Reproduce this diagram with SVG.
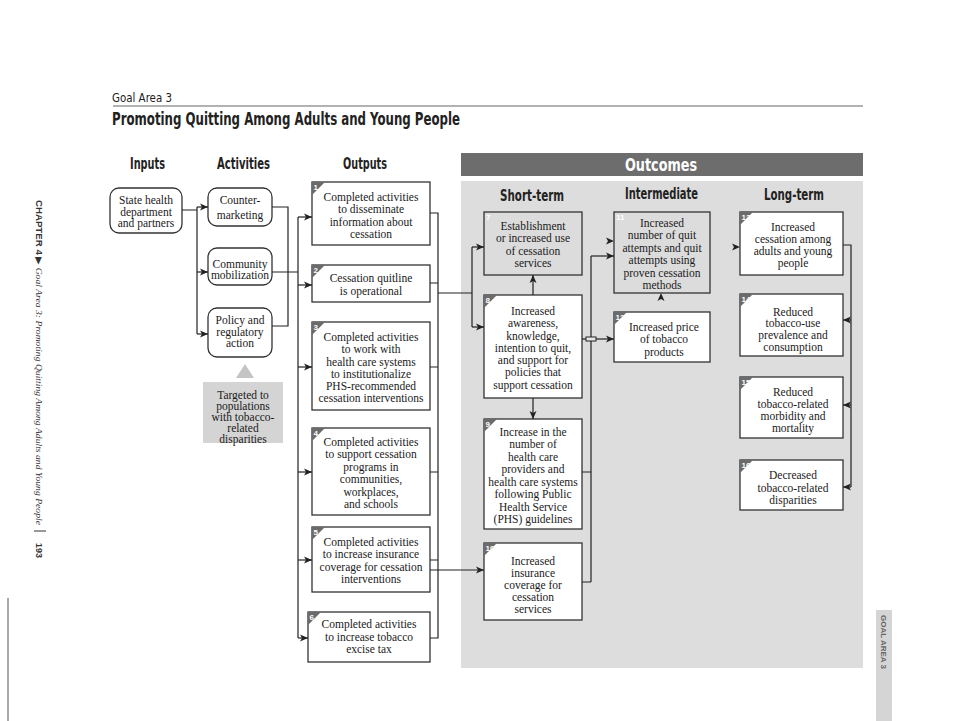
<svg xmlns="http://www.w3.org/2000/svg" width="954" height="721" viewBox="0 0 954 721">
<style>
.hd{font-family:"Liberation Sans Narrow","DejaVu Sans Condensed","Liberation Sans",sans-serif;font-weight:bold;fill:#222}
.t{font-family:"Liberation Serif","DejaVu Serif",serif;font-size:11.5px;fill:#1a1a1a;text-anchor:middle}
.box{fill:#fff;stroke:#333;stroke-width:1.3}
.gbox{fill:#dcdcdc;stroke:#333;stroke-width:1.3}
.tri{fill:#6b6b6b}
.num{font-family:"Liberation Sans Narrow","Liberation Sans",sans-serif;font-weight:bold;font-size:8px;fill:#fff}
.ln{fill:none;stroke:#222;stroke-width:1.2}
</style>
<defs>
<marker id="ah" viewBox="0 0 8 8" refX="8" refY="4" markerWidth="8" markerHeight="8" markerUnits="userSpaceOnUse" orient="auto"><path d="M0,0.5 L8,4 L0,7.5 L2,4 z" fill="#222"/></marker>
</defs>
<rect width="954" height="721" fill="#fff"/>

<!-- page header -->
<text class="hd" x="112" y="102" font-size="13" style="font-weight:normal" textLength="60" lengthAdjust="spacingAndGlyphs">Goal Area 3</text>
<line x1="113" y1="106" x2="863" y2="106" stroke="#666" stroke-width="1.2"/>
<text class="hd" x="112" y="125" font-size="17" textLength="348" lengthAdjust="spacingAndGlyphs">Promoting Quitting Among Adults and Young People</text>
<text class="hd" x="130" y="169" font-size="15" textLength="35" lengthAdjust="spacingAndGlyphs">Inputs</text>
<text class="hd" x="217" y="169" font-size="15" textLength="53" lengthAdjust="spacingAndGlyphs">Activities</text>
<text class="hd" x="343" y="169" font-size="15" textLength="44" lengthAdjust="spacingAndGlyphs">Outputs</text>

<!-- outcomes area -->
<rect x="461" y="181" width="402" height="487" fill="#dddddd"/>
<rect x="461" y="153" width="402" height="23" fill="#6d6d6d"/>
<text class="hd" x="625" y="171" font-size="18" style="fill:#fff" textLength="72" lengthAdjust="spacingAndGlyphs">Outcomes</text>
<text class="hd" x="500" y="201" font-size="15" textLength="64" lengthAdjust="spacingAndGlyphs">Short-term</text>
<text class="hd" x="625" y="199" font-size="15" textLength="73" lengthAdjust="spacingAndGlyphs">Intermediate</text>
<text class="hd" x="764" y="200" font-size="15" textLength="60" lengthAdjust="spacingAndGlyphs">Long-term</text>

<!-- side texts -->
<text transform="translate(36,200) rotate(90)" font-size="9" fill="#333" textLength="325" lengthAdjust="spacingAndGlyphs"><tspan font-family="Liberation Sans Narrow,Liberation Sans,sans-serif" font-weight="bold">CHAPTER 4 </tspan><tspan font-family="Liberation Sans,sans-serif">▶ </tspan><tspan font-family="Liberation Serif,serif" font-style="italic">Goal Area 3: Promoting Quitting Among Adults and Young People</tspan></text>
<line x1="34" y1="531" x2="46" y2="531" stroke="#555" stroke-width="1.2"/>
<text transform="translate(36,543) rotate(90)" font-size="9" font-weight="bold" font-family="Liberation Sans,sans-serif" fill="#333">193</text>
<line x1="8" y1="598" x2="8" y2="721" stroke="#555" stroke-width="1"/>
<rect x="876" y="610" width="16" height="111" fill="#d5d5d5"/>
<text transform="translate(881,615) rotate(90)" font-size="8" font-weight="bold" font-family="Liberation Sans Narrow,Liberation Sans,sans-serif" fill="#666" textLength="54" lengthAdjust="spacing">GOAL AREA 3</text>

<!-- inputs / activities -->
<g id="n-state"><rect class="box" x="110" y="188" width="72" height="45" rx="9"/>
<text class="t"><tspan x="146" y="204">State health</tspan><tspan x="146" y="216">department</tspan><tspan x="146" y="227">and partners</tspan></text></g>
<g id="n-counter"><rect class="box" x="208" y="188" width="64" height="38" rx="9"/>
<text class="t"><tspan x="240" y="204">Counter-</tspan><tspan x="240" y="219">marketing</tspan></text></g>
<g id="n-community"><rect class="box" x="208" y="248" width="64" height="37" rx="9"/>
<text class="t"><tspan x="240" y="268">Community</tspan><tspan x="240" y="279">mobilization</tspan></text></g>
<g id="n-policy"><rect class="box" x="208" y="308" width="64" height="49" rx="9"/>
<text class="t"><tspan x="240" y="324">Policy and</tspan><tspan x="240" y="336">regulatory</tspan><tspan x="240" y="347">action</tspan></text></g>
<g id="n-targeted"><polygon points="245,364 236,378 254,378" fill="#c4c4c4"/><rect x="203" y="382" width="80" height="61" fill="#d4d4d4"/>
<text class="t"><tspan x="243" y="399">Targeted to</tspan><tspan x="243" y="410">populations</tspan><tspan x="243" y="421">with tobacco-</tspan><tspan x="243" y="432">related</tspan><tspan x="243" y="443">disparities</tspan></text></g>

<!-- outputs -->
<g id="n1"><rect class="box" x="312" y="182" width="118" height="63"/><path class="tri" d="M312,182h13l-13,13z"/><text class="num" x="313.5" y="190">1</text>
<text class="t"><tspan x="371" y="201">Completed activities</tspan><tspan x="371" y="213">to disseminate</tspan><tspan x="371" y="226">information about</tspan><tspan x="371" y="238">cessation</tspan></text></g>
<g id="n2"><rect class="box" x="312" y="265" width="118" height="37"/><path class="tri" d="M312,265h13l-13,13z"/><text class="num" x="313.5" y="273">2</text>
<text class="t"><tspan x="371" y="282">Cessation quitline</tspan><tspan x="371" y="295">is operational</tspan></text></g>
<g id="n3"><rect class="box" x="312" y="322" width="118" height="88"/><path class="tri" d="M312,322h13l-13,13z"/><text class="num" x="313.5" y="330">3</text>
<text class="t"><tspan x="371" y="341">Completed activities</tspan><tspan x="371" y="353">to work with</tspan><tspan x="371" y="366">health care systems</tspan><tspan x="371" y="378">to institutionalize</tspan><tspan x="371" y="390">PHS-recommended</tspan><tspan x="371" y="402">cessation interventions</tspan></text></g>
<g id="n4"><rect class="box" x="312" y="428" width="118" height="87"/><path class="tri" d="M312,428h13l-13,13z"/><text class="num" x="313.5" y="436">4</text>
<text class="t"><tspan x="371" y="446">Completed activities</tspan><tspan x="371" y="458">to support cessation</tspan><tspan x="371" y="471">programs in</tspan><tspan x="371" y="483">communities,</tspan><tspan x="371" y="496">workplaces,</tspan><tspan x="371" y="508">and schools</tspan></text></g>
<g id="n5"><rect class="box" x="312" y="527" width="118" height="65"/><path class="tri" d="M312,527h13l-13,13z"/><text class="num" x="313.5" y="535">5</text>
<text class="t"><tspan x="371" y="546">Completed activities</tspan><tspan x="371" y="558">to increase insurance</tspan><tspan x="371" y="571">coverage for cessation</tspan><tspan x="371" y="583">interventions</tspan></text></g>
<g id="n6"><rect class="box" x="308" y="612" width="122" height="50"/><path class="tri" d="M308,612h13l-13,13z"/><text class="num" x="309.5" y="620">6</text>
<text class="t"><tspan x="369" y="628">Completed activities</tspan><tspan x="369" y="641">to increase tobacco</tspan><tspan x="369" y="653">excise tax</tspan></text></g>

<!-- short-term -->
<g id="n7"><rect class="gbox" x="484" y="212" width="98" height="63"/><text class="num" x="486" y="220">7</text>
<text class="t"><tspan x="533" y="230">Establishment</tspan><tspan x="533" y="242">or increased use</tspan><tspan x="533" y="255">of cessation</tspan><tspan x="533" y="267">services</tspan></text></g>
<g id="n8"><rect class="box" x="484" y="295" width="98" height="103"/><path class="tri" d="M484,295h13l-13,13z"/><text class="num" x="485.5" y="303">8</text>
<text class="t"><tspan x="533" y="315">Increased</tspan><tspan x="533" y="327">awareness,</tspan><tspan x="533" y="340">knowledge,</tspan><tspan x="533" y="352">intention to quit,</tspan><tspan x="533" y="364">and support for</tspan><tspan x="533" y="376">policies that</tspan><tspan x="533" y="389">support cessation</tspan></text></g>
<g id="n9"><rect class="box" x="484" y="419" width="98" height="110"/><path class="tri" d="M484,419h13l-13,13z"/><text class="num" x="485.5" y="427">9</text>
<text class="t"><tspan x="533" y="436">Increase in the</tspan><tspan x="533" y="448">number of</tspan><tspan x="533" y="461">health care</tspan><tspan x="533" y="473">providers and</tspan><tspan x="533" y="486">health care systems</tspan><tspan x="533" y="498">following Public</tspan><tspan x="533" y="511">Health Service</tspan><tspan x="533" y="523">(PHS) guidelines</tspan></text></g>
<g id="n10"><rect class="box" x="484" y="543" width="98" height="77"/><path class="tri" d="M484,543h13l-13,13z"/><text class="num" x="485.5" y="551">10</text>
<text class="t"><tspan x="533" y="565">Increased</tspan><tspan x="533" y="577">insurance</tspan><tspan x="533" y="589">coverage for</tspan><tspan x="533" y="601">cessation</tspan><tspan x="533" y="613">services</tspan></text></g>

<!-- intermediate -->
<g id="n11"><rect class="gbox" x="614" y="212" width="96" height="81"/><text class="num" x="616" y="220">11</text>
<text class="t"><tspan x="662" y="227">Increased</tspan><tspan x="662" y="239">number of quit</tspan><tspan x="662" y="252">attempts and quit</tspan><tspan x="662" y="264">attempts using</tspan><tspan x="662" y="277">proven cessation</tspan><tspan x="662" y="289">methods</tspan></text></g>
<g id="n12"><rect class="box" x="614" y="312" width="96" height="50"/><path class="tri" d="M614,312h13l-13,13z"/><text class="num" x="615.5" y="320">12</text>
<text class="t"><tspan x="664" y="331">Increased price</tspan><tspan x="664" y="343">of tobacco</tspan><tspan x="664" y="356">products</tspan></text></g>

<!-- long-term -->
<g id="n13"><rect class="box" x="740" y="212" width="103" height="63"/><path class="tri" d="M740,212h13l-13,13z"/><text class="num" x="741.5" y="220">13</text>
<text class="t"><tspan x="793" y="231">Increased</tspan><tspan x="793" y="243">cessation among</tspan><tspan x="793" y="255">adults and young</tspan><tspan x="793" y="267">people</tspan></text></g>
<g id="n14"><rect class="box" x="740" y="294" width="103" height="62"/><path class="tri" d="M740,294h13l-13,13z"/><text class="num" x="741.5" y="302">14</text>
<text class="t"><tspan x="793" y="316">Reduced</tspan><tspan x="793" y="327">tobacco-use</tspan><tspan x="793" y="339">prevalence and</tspan><tspan x="793" y="351">consumption</tspan></text></g>
<g id="n15"><rect class="box" x="740" y="377" width="103" height="61"/><path class="tri" d="M740,377h13l-13,13z"/><text class="num" x="741.5" y="385">15</text>
<text class="t"><tspan x="793" y="396">Reduced</tspan><tspan x="793" y="408">tobacco-related</tspan><tspan x="793" y="420">morbidity and</tspan><tspan x="793" y="432">mortality</tspan></text></g>
<g id="n16"><rect class="box" x="740" y="460" width="103" height="50"/><path class="tri" d="M740,460h13l-13,13z"/><text class="num" x="741.5" y="468">16</text>
<text class="t"><tspan x="793" y="479">Decreased</tspan><tspan x="793" y="492">tobacco-related</tspan><tspan x="793" y="504">disparities</tspan></text></g>

<!-- connectors -->
<g id="connectors">
<path class="ln" d="M182,210H197M197,207V334"/>
<path class="ln" d="M197,207H208" marker-end="url(#ah)"/>
<path class="ln" d="M197,272H208" marker-end="url(#ah)"/>
<path class="ln" d="M197,334H208" marker-end="url(#ah)"/>
<path class="ln" d="M272,207H288V326H272M272,272H298M298,217V638"/>
<path class="ln" d="M298,217H312" marker-end="url(#ah)"/>
<path class="ln" d="M298,285H312" marker-end="url(#ah)"/>
<path class="ln" d="M298,367H312" marker-end="url(#ah)"/>
<path class="ln" d="M298,472H312" marker-end="url(#ah)"/>
<path class="ln" d="M298,560H312" marker-end="url(#ah)"/>
<path class="ln" d="M298,638H308" marker-end="url(#ah)"/>
<path class="ln" d="M430,213H438V638H430M430,283H438M430,367H438M430,472H438M430,560H438M438,293H472M472,247V327"/>
<path class="ln" d="M472,247H484" marker-end="url(#ah)"/>
<path class="ln" d="M472,327H484" marker-end="url(#ah)"/>
<path class="ln" d="M430,570H484" marker-end="url(#ah)"/>
<path class="ln" d="M533,295V275" marker-end="url(#ah)"/>
<path class="ln" d="M533,398V419" marker-end="url(#ah)"/>
<path class="ln" d="M582,472H591M582,582H591M591,256V582"/>
<path class="ln" d="M591,256H614" marker-end="url(#ah)"/>
<path class="ln" d="M582,339H614" marker-end="url(#ah)"/>
<rect x="586" y="337" width="10" height="4" fill="#e8e8e8" stroke="#222" stroke-width="1"/>
<path class="ln" d="M606,241H614" marker-end="url(#ah)" stroke-opacity="0"/>
<path class="ln" d="M661,301V293" marker-end="url(#ah)" stroke-opacity="0"/>
<path class="ln" d="M732,247H740" marker-end="url(#ah)" stroke-opacity="0"/>
<path class="ln" d="M843,245H851V487"/>
<path class="ln" d="M851,320H843" marker-end="url(#ah)"/>
<path class="ln" d="M851,405H843" marker-end="url(#ah)"/>
<path class="ln" d="M851,487H843" marker-end="url(#ah)"/>
</g>
</svg>
